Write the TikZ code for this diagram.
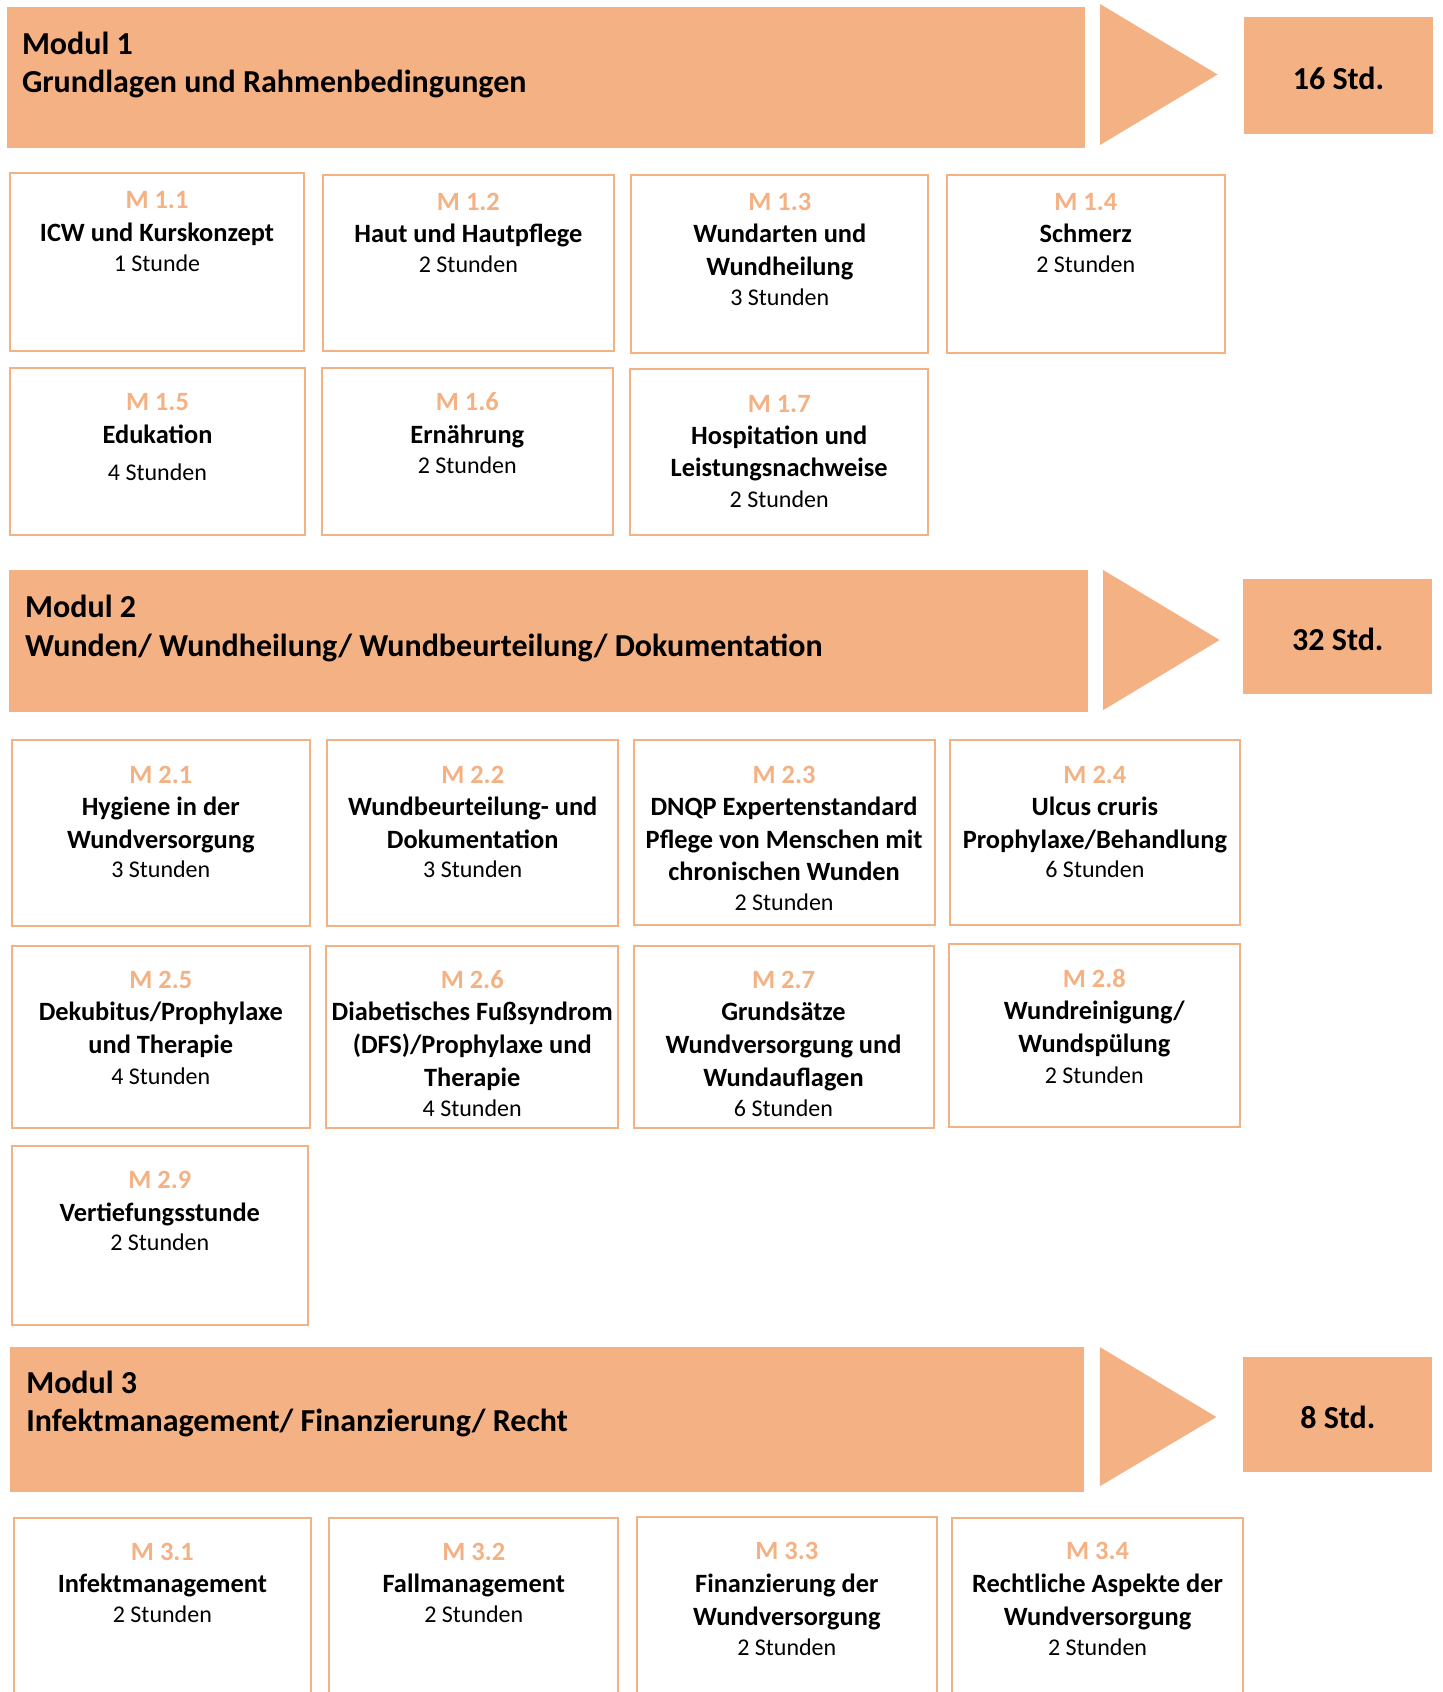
\documentclass[tikz,border=0pt]{standalone}
\usepackage{fontspec}
\setmainfont{Carlito}
\definecolor{peach}{RGB}{244,177,131}
\tikzset{
  banner/.style={fill=peach, draw=none, inner sep=0pt},
  modbox/.style={draw=peach, line width=1pt, fill=white, inner sep=0pt},
  lbl/.style={anchor=base, inner sep=0pt, yshift=-0.8pt, text=peach, font=\fontsize{13.2}{16}\selectfont\bfseries},
  ttl/.style={anchor=base, inner sep=0pt, yshift=-0.8pt, text=black, font=\fontsize{13.2}{16}\selectfont\bfseries},
  hrs/.style={anchor=base, inner sep=0pt, yshift=-0.8pt, text=black, font=\fontsize{12}{15}\selectfont},
  bigt/.style={anchor=base west, inner sep=0pt, yshift=-1pt, text=black, font=\fontsize{16}{19}\selectfont\bfseries},
  stdt/.style={anchor=base, inner sep=0pt, yshift=-0.8pt, text=black, font=\fontsize{16}{19}\selectfont\bfseries}
}
\newcommand{\rectnode}[6]{\node[#1, minimum width={(#5-#3)*0.5pt}, minimum height={(#6-#4)*0.5pt}] (#2) at ({(#3+#5)/2},{(#4+#6)/2}) {};}
\begin{document}
\begin{tikzpicture}[x=0.5pt,y=-0.5pt]
\clip (0,0) rectangle (1442,1692);
\fill[white] (0,0) rectangle (1442,1692);

% ---------------- Modul 1 ----------------
\rectnode{banner}{b1}{6.5}{6.5}{1085}{148}
\fill[peach] (1100,4) -- (1217.5,74.5) -- (1100,145) -- cycle;
\rectnode{banner}{s1}{1244}{17}{1433}{134}
\node[bigt] (b1a) at (21.6,52) {Modul 1};
\node[bigt] (b1b) at (21.6,90) {Grundlagen und Rahmenbedingungen};
\node[stdt] (s1t) at (1338.5,87.7) {16 Std.};

\rectnode{modbox}{m11}{9.7}{172.7}{304.4}{350.8}
\node[lbl] (m11a) at (157,206.6) {M 1.1};
\node[ttl] (m11b) at (157,240) {ICW und Kurskonzept};
\node[hrs] (m11c) at (157,270) {1 Stunde};

\rectnode{modbox}{m12}{322.7}{174.8}{614.1}{350.8}
\node[lbl] (m12a) at (468.4,208.7) {M 1.2};
\node[ttl] (m12b) at (468.4,241) {Haut und Hautpflege};
\node[hrs] (m12c) at (468.4,270.8) {2 Stunden};

\rectnode{modbox}{m13}{631.4}{174.8}{928.2}{352.9}
\node[lbl] (m13a) at (779.8,208.7) {M 1.3};
\node[ttl] (m13b) at (779.8,241) {Wundarten und};
\node[ttl] (m13c) at (779.8,273.5) {Wundheilung};
\node[hrs] (m13d) at (779.8,304.3) {3 Stunden};

\rectnode{modbox}{m14}{946.6}{174.8}{1225}{352.9}
\node[lbl] (m14a) at (1085.8,208.7) {M 1.4};
\node[ttl] (m14b) at (1085.8,241) {Schmerz};
\node[hrs] (m14c) at (1085.8,270.8) {2 Stunden};

\rectnode{modbox}{m15}{9.7}{368}{305.4}{535.3}
\node[lbl] (m15a) at (157.5,408.4) {M 1.5};
\node[ttl] (m15b) at (157.5,441.9) {Edukation};
\node[hrs] (m15c) at (157.5,479.2) {4 Stunden};

\rectnode{modbox}{m16}{321.6}{368}{613}{535.3}
\node[lbl] (m16a) at (467.3,408.4) {M 1.6};
\node[ttl] (m16b) at (467.3,441.9) {Ernährung};
\node[hrs] (m16c) at (467.3,471.6) {2 Stunden};

\rectnode{modbox}{m17}{630.3}{369.1}{928.2}{535.3}
\node[lbl] (m17a) at (779.2,410.6) {M 1.7};
\node[ttl] (m17b) at (779.2,443) {Hospitation und};
\node[ttl] (m17c) at (779.2,475.3) {Leistungsnachweise};
\node[hrs] (m17d) at (779.2,506.1) {2 Stunden};

% ---------------- Modul 2 ----------------
\rectnode{banner}{b2}{8.6}{569.9}{1088}{712.3}
\fill[peach] (1103,569.9) -- (1219.6,640) -- (1103,710.2) -- cycle;
\rectnode{banner}{s2}{1243.4}{578.5}{1432.2}{694}
\node[bigt] (b2a) at (24.8,615.5) {Modul 2};
\node[bigt] (b2b) at (24.8,654) {Wunden/ Wundheilung/ Wundbeurteilung/ Dokumentation};
\node[stdt] (s2t) at (1337.8,649) {32 Std.};

\rectnode{modbox}{m21}{11.9}{740.4}{309.8}{926}
\node[lbl] (m21a) at (160.8,781.9) {M 2.1};
\node[ttl] (m21b) at (160.8,814.2) {Hygiene in der};
\node[ttl] (m21c) at (160.8,846.6) {Wundversorgung};
\node[hrs] (m21d) at (160.8,876.3) {3 Stunden};

\rectnode{modbox}{m22}{327}{740.4}{618.4}{926}
\node[lbl] (m22a) at (472.7,781.9) {M 2.2};
\node[ttl] (m22b) at (472.7,814.2) {Wundbeurteilung- und};
\node[ttl] (m22c) at (472.7,846.6) {Dokumentation};
\node[hrs] (m22d) at (472.7,876.3) {3 Stunden};

\rectnode{modbox}{m23}{633.5}{740.4}{934.7}{925}
\node[lbl] (m23a) at (784.1,781.9) {M 2.3};
\node[ttl] (m23b) at (784.1,814.2) {DNQP Expertenstandard};
\node[ttl] (m23c) at (784.1,846.6) {Pflege von Menschen mit};
\node[ttl] (m23d) at (784.1,879) {chronischen Wunden};
\node[hrs] (m23e) at (784.1,908.7) {2 Stunden};

\rectnode{modbox}{m24}{949.8}{740.4}{1240}{925}
\node[lbl] (m24a) at (1094.9,781.9) {M 2.4};
\node[ttl] (m24b) at (1094.9,814.2) {Ulcus cruris};
\node[ttl] (m24c) at (1094.9,846.6) {Prophylaxe/Behandlung};
\node[hrs] (m24d) at (1094.9,876.3) {6 Stunden};

\rectnode{modbox}{m25}{11.9}{945.5}{309.8}{1127.9}
\node[lbl] (m25a) at (160.8,986.9) {M 2.5};
\node[ttl] (m25b) at (160.8,1019.3) {Dekubitus/Prophylaxe};
\node[ttl] (m25c) at (160.8,1051.7) {und Therapie};
\node[hrs] (m25d) at (160.8,1082.5) {4 Stunden};

\rectnode{modbox}{m26}{326}{945.5}{618.4}{1127.9}
\node[lbl] (m26a) at (472.2,986.9) {M 2.6};
\node[ttl] (m26b) at (472.2,1019.3) {Diabetisches Fußsyndrom};
\node[ttl] (m26c) at (472.2,1051.7) {(DFS)/Prophylaxe und};
\node[ttl] (m26d) at (472.2,1085.1) {Therapie};
\node[hrs] (m26e) at (472.2,1114.9) {4 Stunden};

\rectnode{modbox}{m27}{633.5}{945.5}{933.6}{1127.9}
\node[lbl] (m27a) at (783.5,986.9) {M 2.7};
\node[ttl] (m27b) at (783.5,1019.3) {Grundsätze};
\node[ttl] (m27c) at (783.5,1051.7) {Wundversorgung und};
\node[ttl] (m27d) at (783.5,1085.1) {Wundauflagen};
\node[hrs] (m27e) at (783.5,1114.9) {6 Stunden};

\rectnode{modbox}{m28}{948.7}{944.4}{1240}{1126.8}
\node[lbl] (m28a) at (1094.3,985.8) {M 2.8};
\node[ttl] (m28b) at (1094.3,1018.2) {Wundreinigung/};
\node[ttl] (m28c) at (1094.3,1050.6) {Wundspülung};
\node[hrs] (m28d) at (1094.3,1081.4) {2 Stunden};

\rectnode{modbox}{m29}{11.9}{1146.2}{307.6}{1325.4}
\node[lbl] (m29a) at (159.8,1186.6) {M 2.9};
\node[ttl] (m29b) at (159.8,1220) {Vertiefungsstunde};
\node[hrs] (m29c) at (159.8,1248.7) {2 Stunden};

% ---------------- Modul 3 ----------------
\rectnode{banner}{b3}{9.7}{1347}{1083.6}{1491.6}
\fill[peach] (1099.8,1347) -- (1216.4,1417) -- (1099.8,1486.2) -- cycle;
\rectnode{banner}{s3}{1243.4}{1356.7}{1432.2}{1472.1}
\node[bigt] (b3a) at (25.9,1391.5) {Modul 3};
\node[bigt] (b3b) at (25.9,1429) {Infektmanagement/ Finanzierung/ Recht};
\node[stdt] (s3t) at (1337.8,1427) {8 Std.};

\rectnode{modbox}{m31}{14}{1517.5}{310.8}{1710}
\node[lbl] (m31a) at (162.4,1559) {M 3.1};
\node[ttl] (m31b) at (162.4,1591.3) {Infektmanagement};
\node[hrs] (m31c) at (162.4,1621) {2 Stunden};

\rectnode{modbox}{m32}{329.2}{1517.5}{618.4}{1710}
\node[lbl] (m32a) at (473.8,1559) {M 3.2};
\node[ttl] (m32b) at (473.8,1591.3) {Fallmanagement};
\node[hrs] (m32c) at (473.8,1621) {2 Stunden};

\rectnode{modbox}{m33}{636.8}{1516.5}{936.8}{1710}
\node[lbl] (m33a) at (786.8,1557.9) {M 3.3};
\node[ttl] (m33b) at (786.8,1591.3) {Finanzierung der};
\node[ttl] (m33c) at (786.8,1623.7) {Wundversorgung};
\node[hrs] (m33d) at (786.8,1653.4) {2 Stunden};

\rectnode{modbox}{m34}{951.9}{1517.5}{1243.4}{1710}
\node[lbl] (m34a) at (1097.6,1557.9) {M 3.4};
\node[ttl] (m34b) at (1097.6,1591.3) {Rechtliche Aspekte der};
\node[ttl] (m34c) at (1097.6,1623.7) {Wundversorgung};
\node[hrs] (m34d) at (1097.6,1653.4) {2 Stunden};
\end{tikzpicture}
\end{document}
